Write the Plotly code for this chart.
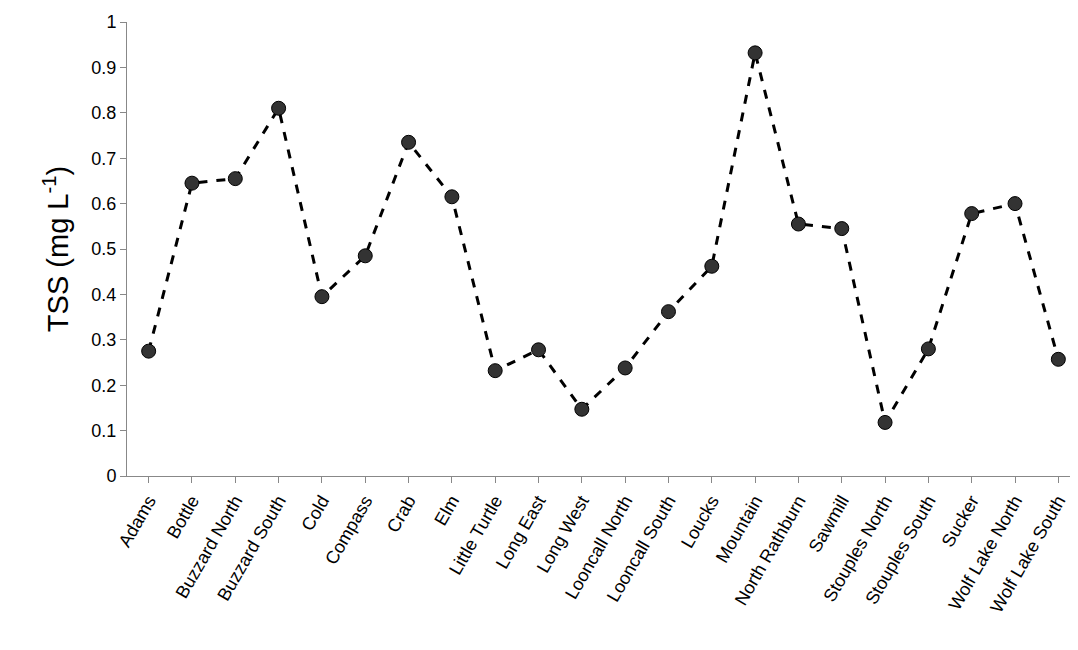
import plotly.graph_objects as go

lakes = ["Adams", "Bottle", "Buzzard North", "Buzzard South", "Cold", "Compass", "Crab",
         "Elm", "Little Turtle", "Long East", "Long West", "Looncall North", "Looncall South",
         "Loucks", "Mountain", "North Rathburn", "Sawmill", "Stouples North", "Stouples South",
         "Sucker", "Wolf Lake North", "Wolf Lake South"]
tss = [0.275, 0.645, 0.655, 0.81, 0.395, 0.485, 0.735, 0.615, 0.232, 0.278, 0.147,
       0.238, 0.362, 0.462, 0.932, 0.555, 0.545, 0.118, 0.28, 0.578, 0.6, 0.257]

fig = go.Figure(go.Scatter(
    x=lakes, y=tss, mode="lines+markers",
    line=dict(color="black", width=3, dash="dash"),
    marker=dict(size=14, color="#333333", line=dict(color="black", width=1)),
))

fig.update_layout(
    width=1078, height=650,
    margin=dict(l=119, r=6, t=14, b=182),
    plot_bgcolor="white", paper_bgcolor="white",
    font=dict(family="Liberation Sans, Arial", color="black", size=18),
    showlegend=False,
)
fig.update_xaxes(showline=True, linecolor="#888888", ticks="outside", tickcolor="#888888",
                 tickangle=-60, ticklen=6, range=[-0.5, 21.5], automargin=False)
fig.update_yaxes(range=[0, 1], dtick=0.1, showline=True, linecolor="#888888", ticks="outside",
                 tickcolor="#888888", ticklen=6, showgrid=False, zeroline=False, automargin=False,
                 title=dict(text="TSS (mg L<sup>-1</sup>)", font=dict(size=29), standoff=14))

fig.write_html("out.html")
